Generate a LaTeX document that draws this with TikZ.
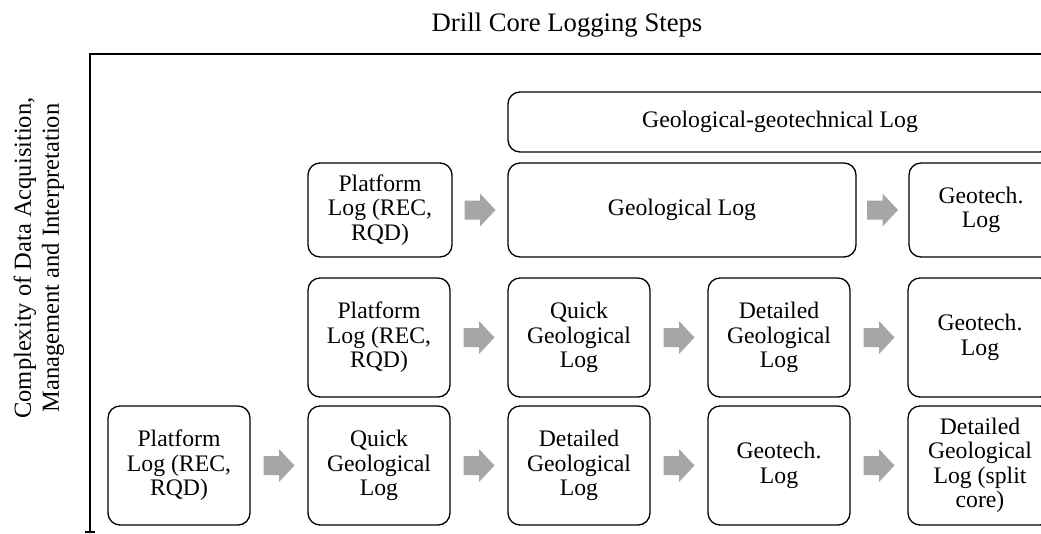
\documentclass[tikz,border=0pt]{standalone}
\usepackage{fontspec}
\setmainfont{Liberation Serif}
\usetikzlibrary{calc}
\definecolor{arrowgray}{HTML}{A6A6A6}
\tikzset{
  logbox/.style={draw, line width=1.3pt, rounded corners=12pt, align=center,
    inner sep=0pt, minimum width=142pt, minimum height=119pt,
    font=\fontsize{23.7}{24.5}\selectfont},
  axisline/.style={line width=2.6pt},
  pics/blockarrow/.style={code={
    \fill[arrowgray] (-15.5,-9.5) -- (0,-9.5) -- (0,-16.5) -- (15.5,0)
      -- (0,16.5) -- (0,9.5) -- (-15.5,9.5) -- cycle;}}
}
\begin{document}
\begin{tikzpicture}[x=1pt,y=-1pt]
\useasboundingbox (0,0) rectangle (1041,533);
\clip (0,0) rectangle (1041,533);
% title and axis label
\node[font=\fontsize{26.7}{28}\selectfont] (title) at (567,25) {Drill Core Logging Steps};
\node[rotate=90, align=center, font=\fontsize{24.5}{28}\selectfont] (ylab) at (39,258)
  {Complexity of Data Acquisition,\\Management and Interpretation};
% axes
\coordinate (corner) at (90,54);
\coordinate (xend) at (1045,54);
\coordinate (yend) at (90,531.5);
\draw[axisline] (xend) -- (corner) -- (yend);
\draw[line width=2pt] ($(yend)+(-5,0)$) -- ($(yend)+(5,0)$);
% row 1
\node[logbox] (a1) at (179,465.5) {Platform\\Log (REC,\\RQD)};
\node[logbox] (b1) at (379,465.5) {Quick\\Geological\\Log};
\node[logbox] (c1) at (579,465.5) {Detailed\\Geological\\Log};
\node[logbox] (d1) at (779,465.5) {Geotech.\\Log};
\node[logbox, minimum width=144pt] (e1) at (980,465.5) {Detailed\\Geological\\Log (split\\core)};
% row 2
\node[logbox] (b2) at (379,337.5) {Platform\\Log (REC,\\RQD)};
\node[logbox] (c2) at (579,337.5) {Quick\\Geological\\Log};
\node[logbox] (d2) at (779,337.5) {Detailed\\Geological\\Log};
\node[logbox, minimum width=144pt] (e2) at (980,337.5) {Geotech.\\Log};
% row 3
\node[logbox, minimum width=144pt, minimum height=94pt] (b3) at (380,210) {Platform\\Log (REC,\\RQD)};
\node[logbox, minimum width=348pt, minimum height=94pt] (c3) at (682,210) {Geological Log};
\node[logbox, minimum width=144pt, minimum height=94pt] (e3) at (981,210) {Geotech.\\Log};
% top
\node[logbox, minimum width=544pt, minimum height=60pt] (top) at (780,122) {Geological-geotechnical Log};
% block arrows
\foreach \p/\q in {a1/b1, b1/c1, c1/d1, d1/e1, b2/c2, c2/d2, d2/e2, b3/c3, c3/e3}{
  \coordinate (m-\p) at ($(\p.east)!0.5!(\q.west)$);
  \pic at (m-\p) {blockarrow};
}
\end{tikzpicture}
\end{document}
